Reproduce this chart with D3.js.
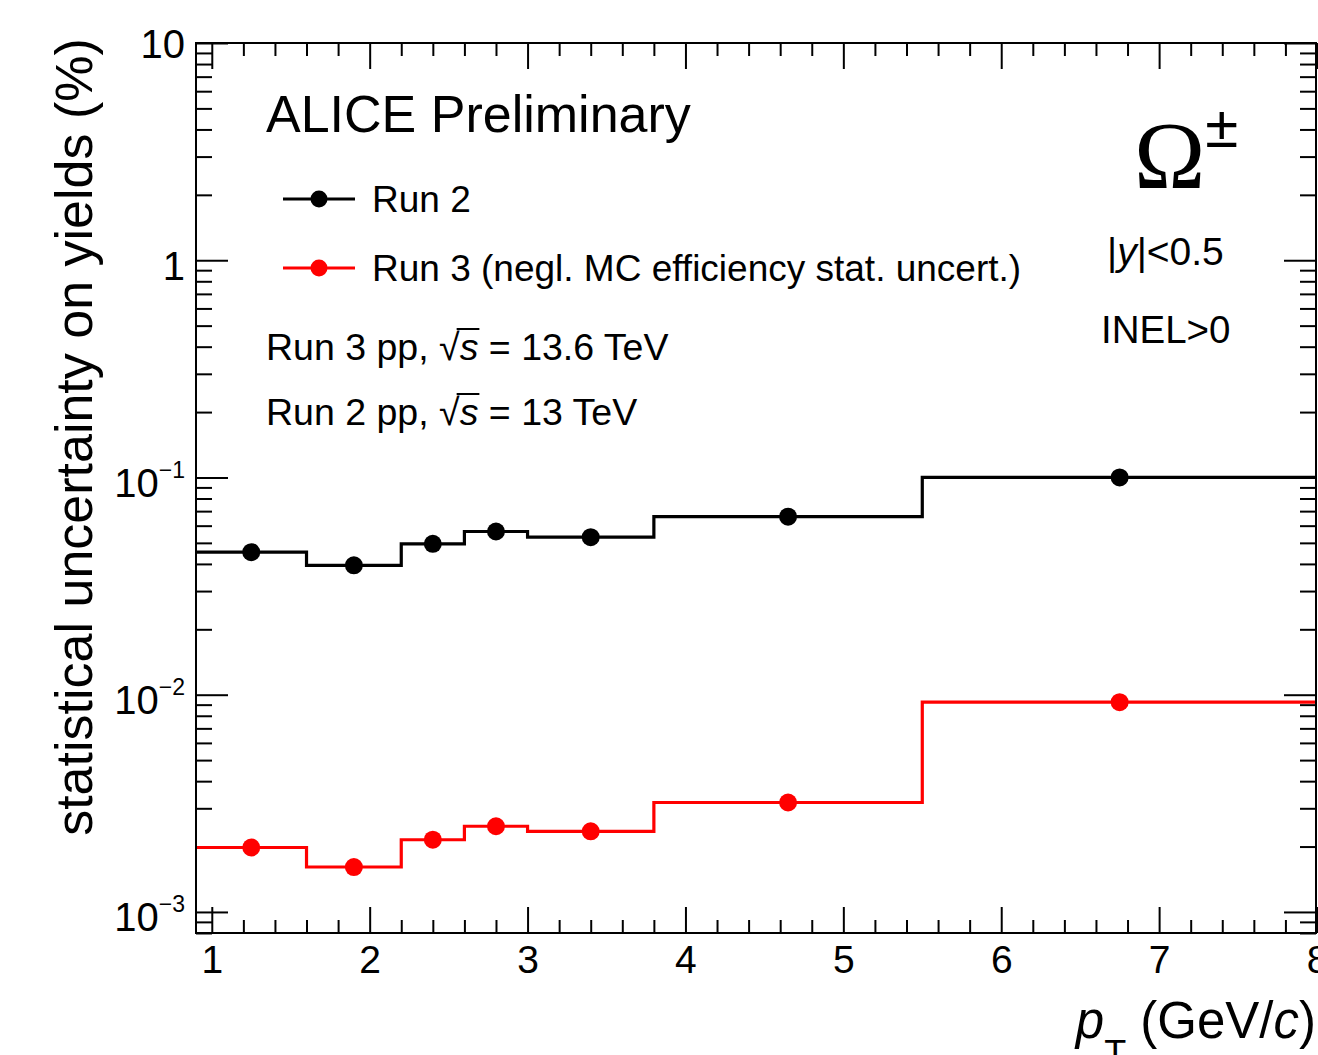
<!DOCTYPE html>
<html>
<head>
<meta charset="utf-8">
<script src="https://cdn.jsdelivr.net/npm/d3@7"></script>
<style>
  html, body { margin: 0; padding: 0; background: #fff; }
  svg { display: block; }
  text { font-family: "Liberation Sans", Arial, Helvetica, sans-serif; fill: #000; }
</style>
</head>
<body>
<svg id="chart" width="1318" height="1055"></svg>
<script>
// pT bin edges (GeV/c) and per-bin statistical uncertainty on yields (%)
const binEdges   = [0.9, 1.6, 2.2, 2.6, 3.0, 3.8, 5.5, 8.0];
const run2Values = [0.0453, 0.0394, 0.0495, 0.0564, 0.0531, 0.066, 0.100];
const run3Values = [0.00198, 0.00161, 0.00215, 0.00248, 0.00235, 0.00319, 0.00924];

// axis ticks and labels
const xMajorTicks = [1, 2, 3, 4, 5, 6, 7, 8];
const xTickLabels = ["1", "2", "3", "4", "5", "6", "7", "8"];
const yMajorTicks = [0.001, 0.01, 0.1, 1, 10];
const yTickBase   = ["10", "10", "10", "1", "10"];
const yTickExp    = ["\u22123", "\u22122", "\u22121", "", ""];

const seriesNames  = ["Run 2", "Run 3 (negl. MC efficiency stat. uncert.)"];
const seriesColors = ["#000000", "#ff0000"];

(function draw() {
const svg = d3.select("#chart");
const frameL = 196, frameR = 1316, frameT = 43, frameB = 933;

const x = d3.scaleLinear().domain([0.9, 8.0]).range([frameL, frameR + 1]);
const y = d3.scaleLog().domain([0.0008, 10]).range([frameB, frameT]);

const xMinorTicks = d3.range(10, 81, 2).map(v => v / 10).filter(v => !Number.isInteger(v));
const yMinorTicks = [];
for (let k = -4; k <= 0; k++) {
  for (let m = 2; m <= 9; m++) {
    const v = m * Math.pow(10, k);
    if (v >= 0.0008 && v <= 10) yMinorTicks.push(+v.toPrecision(3));
  }
}

// ---- frame ticks (all pointing inward)
function styleAxis(g) {
  g.select(".domain").remove();
  g.selectAll(".tick line").attr("stroke", "#000").attr("stroke-width", 2);
}
svg.append("g").attr("transform", `translate(0,${frameB})`)
  .call(d3.axisBottom(x).tickValues(xMinorTicks).tickSize(-13).tickFormat(""))
  .call(styleAxis);
const xAxisG = svg.append("g").attr("transform", `translate(0,${frameB})`)
  .call(d3.axisBottom(x).tickValues(xMajorTicks).tickSize(-26).tickPadding(12)
        .tickFormat((d, i) => xTickLabels[i]))
  .call(styleAxis);
xAxisG.attr("font-family", null).attr("font-size", null);
xAxisG.selectAll(".tick text").attr("font-size", 39);

svg.append("g").attr("transform", `translate(0,${frameT})`)
  .call(d3.axisTop(x).tickValues(xMinorTicks).tickSize(-13).tickFormat(""))
  .call(styleAxis);
svg.append("g").attr("transform", `translate(0,${frameT})`)
  .call(d3.axisTop(x).tickValues(xMajorTicks).tickSize(-26).tickFormat(""))
  .call(styleAxis);

svg.append("g").attr("transform", `translate(${frameL},0)`)
  .call(d3.axisLeft(y).tickValues(yMinorTicks).tickSize(-16).tickFormat(""))
  .call(styleAxis);
const yAxisG = svg.append("g").attr("transform", `translate(${frameL},0)`)
  .call(d3.axisLeft(y).tickValues(yMajorTicks).tickSize(-32).tickPadding(11).tickFormat(""))
  .call(styleAxis);
yAxisG.attr("font-family", null).attr("font-size", null);
svg.append("g").attr("transform", `translate(${frameR},0)`)
  .call(d3.axisRight(y).tickValues(yMinorTicks).tickSize(-16).tickFormat(""))
  .call(styleAxis);
svg.append("g").attr("transform", `translate(${frameR},0)`)
  .call(d3.axisRight(y).tickValues(yMajorTicks).tickSize(-32).tickFormat(""))
  .call(styleAxis);

// power-of-ten labels with superscript exponents
yAxisG.selectAll(".tick text").each(function(d, i) {
  const t = d3.select(this)
    .attr("font-size", 40)
    .attr("dy", d >= 10 ? 14 : 19)
    .text(null);
  t.append("tspan").text(yTickBase[i]);
  if (yTickExp[i]) {
    t.append("tspan").attr("font-size", 23).attr("dy", -19).text(yTickExp[i]);
  }
});

// ---- histograms
svg.append("clipPath").attr("id", "plotclip")
  .append("rect").attr("x", frameL).attr("y", frameT)
  .attr("width", frameR - frameL).attr("height", frameB - frameT);

const plot = svg.append("g").attr("clip-path", "url(#plotclip)");
const stepLine = d3.line().x(d => x(d[0])).y(d => y(d[1])).curve(d3.curveStepAfter);
const centers = binEdges.slice(0, -1).map((e, i) => (e + binEdges[i + 1]) / 2);

[run2Values, run3Values].forEach((vals, s) => {
  const pts = vals.map((v, i) => [binEdges[i], v]);
  pts.push([binEdges[binEdges.length - 1], vals[vals.length - 1]]);
  plot.append("path").datum(pts)
    .attr("d", stepLine)
    .attr("fill", "none")
    .attr("stroke", seriesColors[s])
    .attr("stroke-width", 3.2);
  plot.selectAll(null).data(vals).join("circle")
    .attr("cx", (d, i) => x(centers[i]))
    .attr("cy", d => y(d))
    .attr("r", 9)
    .attr("fill", seriesColors[s]);
});

// frame
svg.append("rect").attr("x", frameL).attr("y", frameT)
  .attr("width", frameR - frameL).attr("height", frameB - frameT)
  .attr("fill", "none").attr("stroke", "#000").attr("stroke-width", 2);

// ---- axis titles
svg.append("text")
  .attr("transform", "translate(92,437) rotate(-90)")
  .attr("text-anchor", "middle").attr("font-size", 52)
  .text("statistical uncertainty on yields (%)");

const xt = svg.append("text").attr("x", 1316).attr("y", 1038)
  .attr("text-anchor", "end").attr("font-size", 51);
xt.append("tspan").attr("font-style", "italic").text("p");
xt.append("tspan").attr("font-size", 36).attr("dy", 28).text("T");
xt.append("tspan").attr("dy", -28).text(" (GeV/");
xt.append("tspan").attr("font-style", "italic").text("c");
xt.append("tspan").text(")");

// ---- headline and legend
svg.append("text").attr("x", 266).attr("y", 132).attr("font-size", 52)
  .text("ALICE Preliminary");

const legendRows = [199, 268];
seriesNames.forEach((name, s) => {
  const ly = legendRows[s];
  svg.append("line").attr("x1", 283).attr("x2", 355).attr("y1", ly).attr("y2", ly)
    .attr("stroke", seriesColors[s]).attr("stroke-width", 3);
  svg.append("circle").attr("cx", 319).attr("cy", ly).attr("r", 8.5).attr("fill", seriesColors[s]);
  svg.append("text").attr("x", 372).attr("y", ly + 13).attr("font-size", 37).text(name);
});

// collision energy lines with a drawn square root
function energyLine(xpos, ypos, prefix, suffix) {
  const t = svg.append("text").attr("x", xpos).attr("y", ypos).attr("font-size", 37.5);
  t.append("tspan").text(prefix);
  t.append("tspan").text("\u221A");
  t.append("tspan").attr("font-style", "italic").text("s");
  t.append("tspan").text(suffix);
  const node = t.node();
  const iRoot = prefix.length;
  const rootEnd = node.getEndPositionOfChar(iRoot).x;
  const sEnd = node.getEndPositionOfChar(iRoot + 1).x;
  svg.append("line").attr("x1", rootEnd - 3).attr("x2", sEnd + 1)
    .attr("y1", ypos - 31).attr("y2", ypos - 31)
    .attr("stroke", "#000").attr("stroke-width", 2);
}
energyLine(266, 360, "Run 3 pp, ", " = 13.6 TeV");
energyLine(266, 425, "Run 2 pp, ", " = 13 TeV");

// particle and selection labels
const om = svg.append("text").attr("x", 1134).attr("y", 188);
om.append("tspan").attr("font-family", "'Liberation Serif', 'Times New Roman', serif")
  .attr("font-size", 96).text("\u03A9");
om.append("tspan").attr("font-size", 60).attr("dy", -41).text("\u00B1");

const yr = svg.append("text").attr("x", 1107).attr("y", 265).attr("font-size", 39);
yr.append("tspan").text("|");
yr.append("tspan").attr("font-style", "italic").text("y");
yr.append("tspan").text("|<0.5");

svg.append("text").attr("x", 1101).attr("y", 343).attr("font-size", 38.5).text("INEL>0");
})();
</script>
</body>
</html>
